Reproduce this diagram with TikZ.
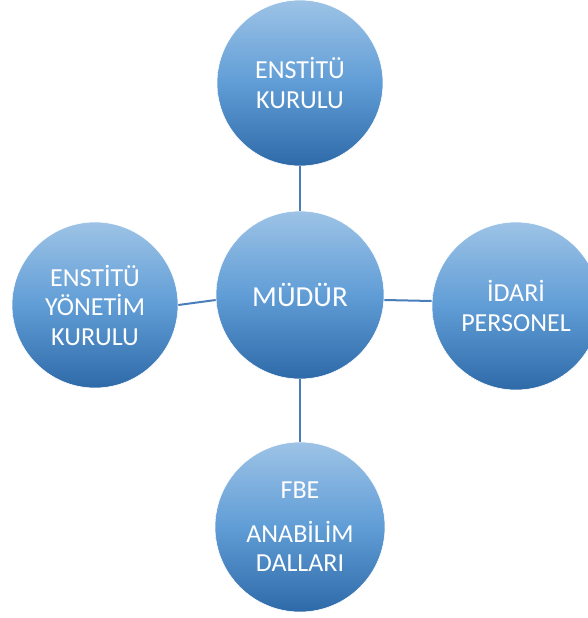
\documentclass[tikz,border=0pt]{standalone}
\usepackage{fontspec}
\setmainfont{Carlito}
\definecolor{ctop}{RGB}{157,195,230}
\definecolor{cmid}{RGB}{96,157,214}
\definecolor{cbot}{RGB}{46,106,168}
\definecolor{cline}{RGB}{74,126,187}
\tikzset{
  bub/.style={circle, inner sep=0pt, minimum size=#1, draw=white, line width=0.6pt,
    top color=ctop, bottom color=cbot, middle color=cmid, text=white, align=center,
    font=\fontsize{26}{29.5}\selectfont},
  conn/.style={draw=cline, line width=2pt}
}
\begin{document}
\begin{tikzpicture}[x=1pt,y=1pt]
\useasboundingbox (0,0) rectangle (587,-618);
\node[bub=166pt] (top) at (300,-83) {ENSTİTÜ\\KURULU};
\node[bub=168pt, font=\fontsize{29}{33}\selectfont] (mid) at (300,-295) {MÜDÜR};
\node[bub=166pt] (left) at (95,-305) {ENSTİTÜ\\YÖNETİM\\KURULU};
\node[bub=168pt] (right) at (516,-306) {İDARİ\\PERSONEL};
\node[bub=170pt] (bot) at (300,-527) {FBE\\[14pt]ANABİLİM\\DALLARI};
\draw[conn] (top.south) -- (mid.north);
\draw[conn] (mid.south) -- (bot.north);
\draw[conn] ([yshift=-5pt]mid.west) -- (left.east);
\draw[conn] ([yshift=-5pt]mid.east) -- ([yshift=5pt]right.west);
\end{tikzpicture}
\end{document}
